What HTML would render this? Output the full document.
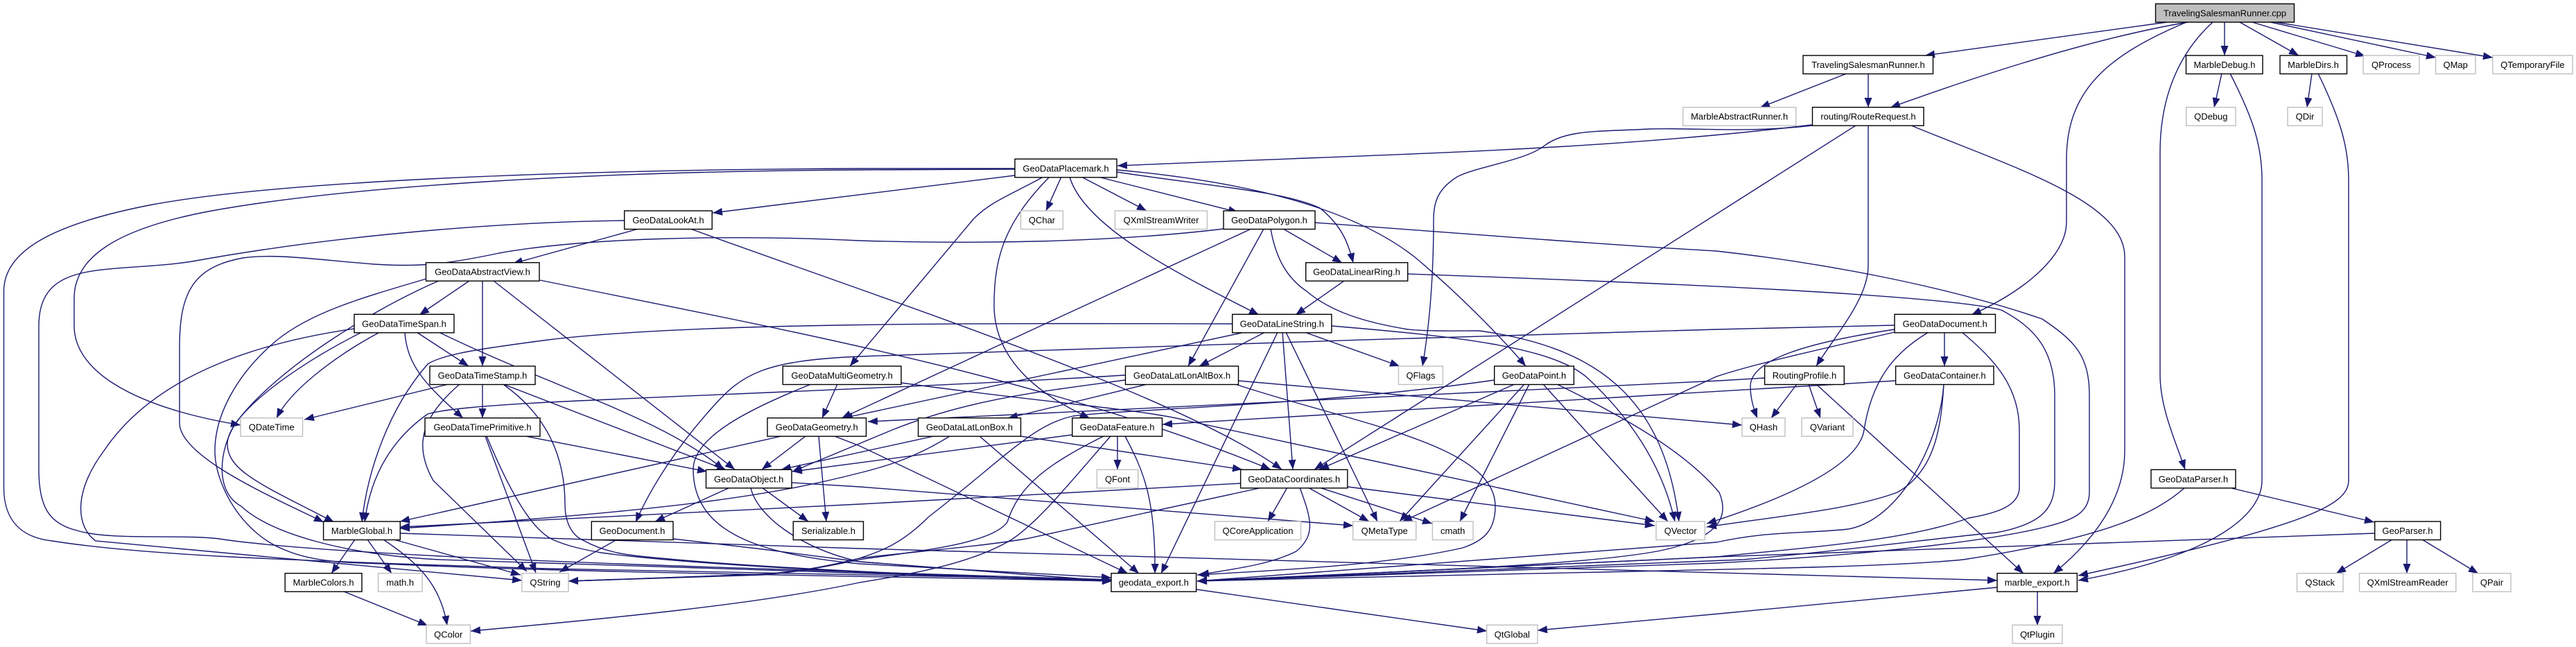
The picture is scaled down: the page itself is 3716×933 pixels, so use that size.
<!DOCTYPE html>
<html><head><meta charset="utf-8"><style>
html,body{margin:0;padding:0;background:#fff}
svg{display:block}
.n rect{fill:#fff;stroke:#000;stroke-width:1.4}
.g rect{fill:#fff;stroke:#bfbfbf;stroke-width:1.4}
text{font-family:"Liberation Sans",sans-serif;font-size:13px;text-anchor:middle;fill:#000}
.e path{fill:none;stroke:#191970;stroke-width:1.4;marker-end:url(#a)}
</style></head><body>
<svg xmlns="http://www.w3.org/2000/svg" width="3716" height="933" viewBox="0 0 3716 933">
<defs><marker id="a" markerUnits="userSpaceOnUse" markerWidth="15" markerHeight="12" refX="14" refY="5.5" orient="auto"><path d="M0,0L14,5.5L0,11Z" fill="#191970"/></marker></defs>
<rect width="3716" height="933" fill="#fff"/>
<g class="e">
<path d="M3126,32L2777,80"/>
<path d="M3156,32Q2990,60 2727,155"/>
<path d="M3154,32C3040,80 2981,130 2981,230L2981,320C2981,365 2930,415 2844,454"/>
<path d="M3192,32C3150,70 3116,130 3116,220L3116,540C3116,590 3140,640 3152,677"/>
<path d="M3209,32V80"/>
<path d="M3231,32L3316,80"/>
<path d="M3249,32L3412,81"/>
<path d="M3275,32L3514,83"/>
<path d="M3283,32L3596,83"/>
<path d="M2664,106L2539,155"/>
<path d="M2695,106V155"/>
<path d="M2614,180C2300,218 2000,222 1612,239"/>
<path d="M2614,181C2520,192 2450,184 2379,186C2310,190 2260,186 2228,210C2200,232 2130,240 2102,255C2075,272 2068,290 2068,317C2068,400 2062,470 2052,528"/>
<path d="M2695,181L2695,383C2695,430 2650,480 2620,528"/>
<path d="M2677,181L1896,677"/>
<path d="M2757,181C2900,240 3065,290 3065,370L3065,650C3065,720 3020,780 2962,827"/>
<path d="M1464,243L1240,243C800,245 400,262 220,295C80,322 5.5,360 5.5,420L5.5,703C5.5,750 30,775 75,780C200,800 400,808 791,820L1604,836"/>
<path d="M1464,244L1240,245C860,247 500,268 300,305C170,330 107,370 107,430L107,470C107,530 180,585 347,613"/>
<path d="M1464,253L1028,307"/>
<path d="M1611,248C1740,268 1850,275 1904,300C1935,325 1945,350 1952,379"/>
<path d="M1611,245C1800,262 1950,300 2040,370C2100,420 2160,480 2201,528"/>
<path d="M1531,255L1509,304"/>
<path d="M1560,255L1654,304"/>
<path d="M1584,255L1786,306"/>
<path d="M1543,255C1565,330 1710,400 1816,454"/>
<path d="M1505,255C1460,280 1430,290 1405,315L1226,528"/>
<path d="M1514,255C1450,320 1434,370 1434,440C1434,520 1500,570 1572,603"/>
<path d="M1765,330C1600,350 1400,352 1240,347C1030,337 830,345 720,365C640,382 600,385 540,381C460,375 400,365 350,372C280,385 259,420 259,500L259,610C259,660 400,720 467,753"/>
<path d="M901,318C720,320 480,340 277,377C160,395 56,370 56,470L56,677C56,730 70,755 111,765C160,780 260,770 316,777C500,805 1100,820 1604,836"/>
<path d="M921,330L740,380"/>
<path d="M996,330C1300,440 1700,570 1849,677"/>
<path d="M779,404C1100,470 1500,540 1833,677"/>
<path d="M615,402C520,430 450,450 400,490C340,540 310,600 310,650C310,700 350,770 411,793C450,810 500,812 553,813C800,825 1200,830 1604,838"/>
<path d="M633,405C540,445 400,530 340,610C315,650 310,710 348,730C390,770 500,800 633,807L1604,838"/>
<path d="M522,479C420,530 328,600 328,640C328,680 380,700 482,753"/>
<path d="M511,474C400,490 230,530 150,650C105,710 110,760 138,780L753,837"/>
<path d="M546,480C490,510 420,560 399,603"/>
<path d="M584,479C587,530 620,560 668,603"/>
<path d="M601,479L676,528"/>
<path d="M633,479C800,560 950,600 1044,677"/>
<path d="M677,405L605,454"/>
<path d="M696,405V528"/>
<path d="M712,405L1060,677"/>
<path d="M647,554L439,605"/>
<path d="M696,554V603"/>
<path d="M726,554L1048,678"/>
<path d="M663,554C610,600 595,640 625,693L760,824"/>
<path d="M727,555C790,600 815,660 815,727C815,760 830,775 843,780C870,795 900,800 933,803C1100,820 1400,832 1604,838"/>
<path d="M758,629L1020,680"/>
<path d="M700,629L773,826"/>
<path d="M702,629C740,720 770,765 797,778C820,788 840,792 867,797C1000,815 1300,830 1604,838"/>
<path d="M1208,554L1186,603"/>
<path d="M1170,554C1080,590 1000,630 1000,677C1000,770 1100,800 1240,813L1603,833"/>
<path d="M1300,552C1500,580 1650,590 1714,607L2387,752"/>
<path d="M1778,467C1400,466 1000,465 791,490C700,502 640,510 617,525C560,590 530,680 522,753"/>
<path d="M1796,479L1216,603"/>
<path d="M1825,479L1730,528"/>
<path d="M1843,479L1675,827"/>
<path d="M1850,479L1865,677"/>
<path d="M1855,479L1987,752"/>
<path d="M1882,479L2019,528"/>
<path d="M1921,470C2100,485 2240,500 2290,545C2360,610 2400,680 2416,752"/>
<path d="M1939,405L1869,454"/>
<path d="M2031,395C2400,408 2800,425 2887,447C2930,470 2964,500 2964,570L2964,693C2964,730 2950,755 2880,768C2800,775 2700,790 2515,807L1727,838"/>
<path d="M1897,321C2150,340 2350,355 2476,362C2620,378 2800,410 2946,460C2990,490 3014,510 3014,570L3014,710C3014,740 2990,750 2950,760C2870,780 2700,800 2476,812L1727,838"/>
<path d="M1805,330L1501,470L1214,603"/>
<path d="M1823,330L1714,528"/>
<path d="M1851,330L1936,379"/>
<path d="M1833,330C1840,370 1855,400 1885,420C1920,450 1970,465 2031,475C2060,478 2100,477 2134,477C2300,500 2400,570 2422,752"/>
<path d="M1623,541C1400,555 1000,570 791,580C700,585 640,590 617,597C570,630 535,680 526,753"/>
<path d="M1623,548C1500,565 1400,575 1287,620L1143,680"/>
<path d="M1655,554L1454,603"/>
<path d="M1786,549L2513,613"/>
<path d="M1782,554C1950,610 2157,640 2157,730C2157,765 2140,780 2110,790C2000,815 1850,822 1727,829"/>
<path d="M2156,548C1900,585 1620,590 1548,600C1490,612 1450,660 1340,745C1300,785 1270,795 1240,805C1180,820 1140,825 1100,828L820,838"/>
<path d="M2185,554L1903,677"/>
<path d="M2199,554L2019,752"/>
<path d="M2206,554L2106,752"/>
<path d="M2226,554L2406,752"/>
<path d="M2246,554C2340,600 2430,650 2480,710C2495,745 2480,775 2400,793C2300,815 2000,825 1727,838"/>
<path d="M2546,545L2480,549L1252,608"/>
<path d="M2592,554L2555,603"/>
<path d="M2609,554L2626,603"/>
<path d="M2621,555L2919,827"/>
<path d="M2733,469L2476,475C2100,485 1500,505 1240,514C1100,520 1070,540 1028,587C980,640 940,700 917,753"/>
<path d="M2733,475C2600,495 2525,520 2525,557C2525,575 2530,590 2535,603"/>
<path d="M2733,479C2620,505 2530,525 2476,543L2023,752"/>
<path d="M2782,479C2730,510 2700,550 2689,620C2680,680 2540,730 2462,755"/>
<path d="M2805,479V528"/>
<path d="M2830,479C2880,520 2913,560 2913,620L2913,703C2913,730 2880,740 2840,747C2750,780 2600,790 2476,803L1727,838"/>
<path d="M2804,554C2800,620 2790,680 2737,710C2670,735 2560,745 2462,760"/>
<path d="M2804,554C2798,640 2740,750 2666,763C2600,770 2555,765 2476,782L1727,838"/>
<path d="M2735,549L1677,612"/>
<path d="M1547,627L1143,680"/>
<path d="M1592,629C1510,670 1470,700 1453,753C1430,785 1320,795 1240,807C1180,820 1140,826 1100,829L820,838"/>
<path d="M1602,629C1540,700 1500,750 1461,777C1400,815 1300,830 1240,840C1100,870 900,890 679,910"/>
<path d="M1612,629V677"/>
<path d="M1623,629C1650,680 1667,720 1666,827"/>
<path d="M1413,629L1643,827"/>
<path d="M1472,629L1792,677"/>
<path d="M1347,629L1127,677"/>
<path d="M1370,629C1320,660 1280,672 1240,682C1130,710 1000,735 577,762"/>
<path d="M1127,629L577,752"/>
<path d="M1162,629L1099,677"/>
<path d="M1181,629L1192,752"/>
<path d="M1204,629L1240,643L1627,827"/>
<path d="M1053,703L945,752"/>
<path d="M1099,703L1166,752"/>
<path d="M1083,703C1090,740 1150,790 1240,810L1604,838"/>
<path d="M1142,696L1240,702L1952,758"/>
<path d="M890,778L807,825"/>
<path d="M971,777L1100,792L1240,810L1604,838"/>
<path d="M512,778L478,827"/>
<path d="M530,778L565,827"/>
<path d="M553,778C600,810 635,840 645,902"/>
<path d="M568,778L751,829"/>
<path d="M577,769L1240,791L2189,818L2881,837"/>
<path d="M496,853L617,902"/>
<path d="M1726,850L2145,910"/>
<path d="M2881,847L2480,885L2218,909"/>
<path d="M2939,853V902"/>
<path d="M3205,106L3194,155"/>
<path d="M3217,106C3250,170 3263,210 3263,260L3263,693C3263,740 3200,800 2998,837"/>
<path d="M3335,106L3328,155"/>
<path d="M3344,106C3375,170 3388,210 3388,260L3388,693C3388,730 3320,760 2998,830"/>
<path d="M3215,703L3425,753"/>
<path d="M3152,703C3110,740 3040,775 2832,807C2700,820 2476,820 1727,838"/>
<path d="M3426,769L2476,803L1727,838"/>
<path d="M3451,778L3370,827"/>
<path d="M3472,778V827"/>
<path d="M3494,778L3575,827"/>
<path d="M1790,697L1240,727L577,760"/>
<path d="M1821,703L1480,777C1400,790 1300,797 1240,805C1180,820 1140,826 1100,828L820,838"/>
<path d="M1857,703L1829,752"/>
<path d="M1875,703C1890,745 1900,770 1870,795C1830,815 1780,820 1730,829"/>
<path d="M1887,703L1975,752"/>
<path d="M1903,703L2066,755"/>
<path d="M1944,702L2387,758"/>
</g>
<g class="n">
<rect x="3109.5" y="5.5" width="200" height="26.5" style="fill:#bfbfbf"/><text x="3209.5" y="23.5">TravelingSalesmanRunner.cpp</text>
<rect x="2601" y="80" width="187.5" height="26.5"/><text x="2695" y="98">TravelingSalesmanRunner.h</text>
<rect x="3153.5" y="80" width="110.5" height="26.5"/><text x="3209" y="98">MarbleDebug.h</text>
<rect x="3289" y="80" width="96.5" height="26.5"/><text x="3337" y="98">MarbleDirs.h</text>
<rect x="2614.5" y="154.7" width="160.5" height="26.5"/><text x="2695" y="172.7">routing/RouteRequest.h</text>
<rect x="1464" y="229.3" width="147" height="26.5"/><text x="1537.5" y="247.3">GeoDataPlacemark.h</text>
<rect x="900.7" y="304" width="126.5" height="26.5"/><text x="964" y="322">GeoDataLookAt.h</text>
<rect x="1765" y="304" width="132" height="26.5"/><text x="1831" y="322">GeoDataPolygon.h</text>
<rect x="614.5" y="378.7" width="163.5" height="26.5"/><text x="696" y="396.7">GeoDataAbstractView.h</text>
<rect x="1883.7" y="378.7" width="147" height="26.5"/><text x="1957" y="396.7">GeoDataLinearRing.h</text>
<rect x="511" y="453.3" width="144" height="26.5"/><text x="583" y="471.3">GeoDataTimeSpan.h</text>
<rect x="1777.7" y="453.3" width="143.2" height="26.5"/><text x="1849.3" y="471.3">GeoDataLineString.h</text>
<rect x="2733" y="453.3" width="145.5" height="26.5"/><text x="2805.7" y="471.3">GeoDataDocument.h</text>
<rect x="620" y="528" width="152" height="26.5"/><text x="696" y="546">GeoDataTimeStamp.h</text>
<rect x="1129.3" y="528" width="170.7" height="26.5"/><text x="1214.6" y="546">GeoDataMultiGeometry.h</text>
<rect x="1623.5" y="528" width="163" height="26.5"/><text x="1705" y="546">GeoDataLatLonAltBox.h</text>
<rect x="2155.7" y="528" width="114.7" height="26.5"/><text x="2213" y="546">GeoDataPoint.h</text>
<rect x="2545.6" y="528" width="114.7" height="26.5"/><text x="2603" y="546">RoutingProfile.h</text>
<rect x="2734.6" y="528" width="141.4" height="26.5"/><text x="2805.3" y="546">GeoDataContainer.h</text>
<rect x="613" y="602.7" width="166" height="26.5"/><text x="696" y="620.7">GeoDataTimePrimitive.h</text>
<rect x="1107" y="602.7" width="142.5" height="26.5"/><text x="1178.2" y="620.7">GeoDataGeometry.h</text>
<rect x="1324.6" y="602.7" width="147.9" height="26.5"/><text x="1398.5" y="620.7">GeoDataLatLonBox.h</text>
<rect x="1546.8" y="602.7" width="129.7" height="26.5"/><text x="1611.6" y="620.7">GeoDataFeature.h</text>
<rect x="1018.5" y="677.3" width="123.5" height="26.5"/><text x="1080.2" y="695.3">GeoDataObject.h</text>
<rect x="1789.6" y="677.3" width="154.2" height="26.5"/><text x="1866.7" y="695.3">GeoDataCoordinates.h</text>
<rect x="3103" y="677.3" width="122" height="26.5"/><text x="3164" y="695.3">GeoDataParser.h</text>
<rect x="466.6" y="752" width="110.7" height="26.5"/><text x="522" y="770">MarbleGlobal.h</text>
<rect x="853.3" y="752" width="117.7" height="26.5"/><text x="912" y="770">GeoDocument.h</text>
<rect x="1144.3" y="752" width="101.2" height="26.5"/><text x="1195" y="770">Serializable.h</text>
<rect x="3425.7" y="752" width="94.9" height="26.5"/><text x="3473" y="770">GeoParser.h</text>
<rect x="411.2" y="826.7" width="110.8" height="26.5"/><text x="466.6" y="844.7">MarbleColors.h</text>
<rect x="1603" y="826.7" width="122.6" height="26.5"/><text x="1664.3" y="844.7">geodata_export.h</text>
<rect x="2881" y="826.7" width="115.4" height="26.5"/><text x="2938.7" y="844.7">marble_export.h</text>
</g>
<g class="g">
<rect x="3409" y="80" width="81" height="26.5"/><text x="3449.5" y="98">QProcess</text>
<rect x="3513.5" y="80" width="57.5" height="26.5"/><text x="3542.2" y="98">QMap</text>
<rect x="3595.8" y="80" width="115.2" height="26.5"/><text x="3653.4" y="98">QTemporaryFile</text>
<rect x="2427.8" y="154.7" width="162.9" height="26.5"/><text x="2509.2" y="172.7">MarbleAbstractRunner.h</text>
<rect x="3153.7" y="154.7" width="71.3" height="26.5"/><text x="3189.3" y="172.7">QDebug</text>
<rect x="3300" y="154.7" width="50" height="26.5"/><text x="3325" y="172.7">QDir</text>
<rect x="1472.5" y="304" width="60.9" height="26.5"/><text x="1503" y="322">QChar</text>
<rect x="1608.5" y="304" width="132.9" height="26.5"/><text x="1675" y="322">QXmlStreamWriter</text>
<rect x="2017.4" y="528" width="64" height="26.5"/><text x="2049.4" y="546">QFlags</text>
<rect x="347" y="602.7" width="89.5" height="26.5"/><text x="391.7" y="620.7">QDateTime</text>
<rect x="2513" y="602.7" width="62" height="26.5"/><text x="2544" y="620.7">QHash</text>
<rect x="2599" y="602.7" width="74" height="26.5"/><text x="2636" y="620.7">QVariant</text>
<rect x="1582.4" y="677.3" width="59.3" height="26.5"/><text x="1612" y="695.3">QFont</text>
<rect x="1752.4" y="752" width="124.2" height="26.5"/><text x="1814.5" y="770">QCoreApplication</text>
<rect x="1951.7" y="752" width="91" height="26.5"/><text x="1997.2" y="770">QMetaType</text>
<rect x="2066.4" y="752" width="58.6" height="26.5"/><text x="2095.7" y="770">cmath</text>
<rect x="2389" y="752" width="70.4" height="26.5"/><text x="2424.2" y="770">QVector</text>
<rect x="545.6" y="826.7" width="63.4" height="26.5"/><text x="577.3" y="844.7">math.h</text>
<rect x="752.8" y="826.7" width="67.2" height="26.5"/><text x="786.4" y="844.7">QString</text>
<rect x="3313.5" y="826.7" width="66.5" height="26.5"/><text x="3346.7" y="844.7">QStack</text>
<rect x="3403.6" y="826.7" width="139.2" height="26.5"/><text x="3473.2" y="844.7">QXmlStreamReader</text>
<rect x="3567" y="826.7" width="55" height="26.5"/><text x="3594.5" y="844.7">QPair</text>
<rect x="615" y="901.3" width="63.5" height="26.5"/><text x="646.7" y="919.3">QColor</text>
<rect x="2144.7" y="901.3" width="73.3" height="26.5"/><text x="2181.3" y="919.3">QtGlobal</text>
<rect x="2903" y="901.3" width="72" height="26.5"/><text x="2939" y="919.3">QtPlugin</text>
</g>
</svg>
</body></html>
